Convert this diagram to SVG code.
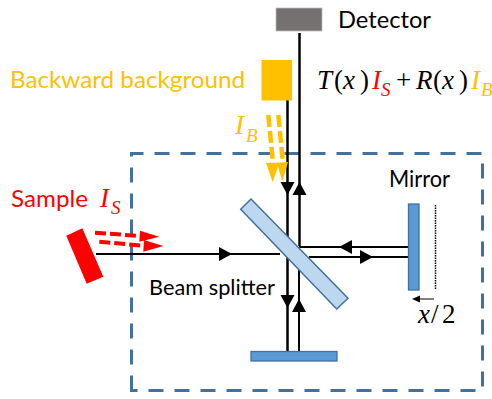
<svg xmlns="http://www.w3.org/2000/svg" width="492" height="399" viewBox="0 0 492 399">
<style>
.t{font-family:"Lato","Liberation Sans",sans-serif;font-size:24px}
.b{font-size:21.5px}
.m{font-family:"Liberation Serif","DejaVu Serif",serif;font-size:27px;font-style:italic}
.s{font-family:"Liberation Serif","DejaVu Serif",serif;font-size:19px;font-style:italic}
.n{font-style:normal}
.k{stroke:#000;fill:none}
.red{fill:#ff0000}.yel{fill:#ffc000}.blk{fill:#000}
.opt{stroke:#41719c;stroke-width:1.3}
.dr{stroke:#f00;stroke-width:4;stroke-dasharray:11 4;fill:none}
.dy{stroke:#ffc000;stroke-width:4.5;stroke-dasharray:12 4;fill:none}
</style>
<defs>
<polygon id="ah" points="0,0 -13,-7 -13,7" fill="#000"/>
</defs>
<path id="frame" d="M131.5 390.5V153.5H482.5V390.5Z" fill="none" stroke="#41719c" stroke-width="3" stroke-dasharray="15 11"/>
<g id="connectors">
<path class="k" stroke-width="2.5" d="M287.5 100V251M287.5 257V351"/>
<path class="k" stroke-width="2.5" d="M299.5 33V246"/>
<path class="k" stroke-width="1.8" d="M96 254H280"/>
<path class="k" stroke-width="2" d="M299 247H408"/>
<path class="k" stroke-width="1.8" d="M309 257H408"/>
<path class="k" stroke-width="2" d="M299 268V351"/>
<use href="#ah" transform="translate(232 254)"/>
<use href="#ah" transform="translate(287.5 195) rotate(90)"/>
<use href="#ah" transform="translate(299.5 182) rotate(-90)"/>
<use href="#ah" transform="translate(339 247) rotate(180)"/>
<use href="#ah" transform="translate(373 257)"/>
<use href="#ah" transform="translate(287.5 308) rotate(90)"/>
<use href="#ah" transform="translate(299 299) rotate(-90)"/>
<path class="dr" d="M95 232.7L140 236"/>
<polygon class="red" points="140,230.7 139.3,241.7 159.3,236.7"/>
<path class="dr" d="M99.3 241.7L143 245.7"/>
<polygon class="red" points="144,240 143.3,251.7 163.3,246"/>
<path class="dy" d="M268.3 115L272.7 160"/>
<polygon class="yel" points="266,162.7 279.3,162.7 272.7,182.3"/>
<path class="dy" d="M278.3 115L282.7 160"/>
<polygon class="yel" points="277,162.7 288,162 282.3,181.7"/>
<path d="M434 299H420" stroke="#000" stroke-width="1" fill="none"/>
<polygon class="blk" points="412,299 420,295.5 420,302.5"/>
<path d="M435.5 205V290" stroke="#000" stroke-width="1.5" stroke-dasharray="1.5 1" fill="none"/>
</g>
<g id="detector">
<rect x="276" y="8" width="46" height="23" fill="#767171" stroke="#bfbfbf" stroke-width="0.8"/>
<text class="t" x="338" y="28" textLength="93" lengthAdjust="spacingAndGlyphs">Detector</text>
</g>
<g id="background">
<rect x="261.5" y="60" width="30.5" height="40.5" fill="#ffc000"/>
<text class="t yel" x="10" y="88" textLength="235" lengthAdjust="spacingAndGlyphs">Backward background</text>
<text class="m yel" x="235" y="134">I</text>
<text class="s yel" x="246" y="142">B</text>
</g>
<g id="sample">
<polygon class="red" points="66.3,235.7 82.3,228.3 103.3,276.7 86.7,283.7"/>
<text class="t red" x="11" y="207" textLength="77" lengthAdjust="spacingAndGlyphs">Sample</text>
<text class="m red" x="100" y="207">I</text>
<text class="s red" x="111" y="214">S</text>
</g>
<g id="beam-splitter">
<polygon points="240.7,209.3 251,199 348,298.3 336.7,309" fill="#bdd7ee" stroke="#41719c" stroke-width="1.5"/>
<text class="t b" x="149" y="295" textLength="126" lengthAdjust="spacingAndGlyphs">Beam splitter</text>
</g>
<g id="lower-mirror">
<rect class="opt" x="251" y="351.5" width="86" height="9.5" fill="#5b9bd5"/>
</g>
<g id="mirror">
<rect class="opt" x="408.5" y="204" width="10.5" height="86" fill="#5b9bd5"/>
<text class="t" x="389" y="187" textLength="61" lengthAdjust="spacingAndGlyphs">Mirror</text>
<text class="m" x="418" y="323">x</text>
<text class="m n" x="431" y="323">/</text>
<text class="m n" x="442" y="323">2</text>
</g>
<g id="formula">
<text class="m" x="317" y="89">T</text>
<text class="m n" x="334" y="89">(</text>
<text class="m" x="343" y="89">x</text>
<text class="m n" x="360" y="89">)</text>
<text class="m red" x="372" y="89">I</text>
<text class="s red" x="381" y="96">S</text>
<text class="m n" x="396" y="89">+</text>
<text class="m" x="416" y="89">R</text>
<text class="m n" x="433" y="89">(</text>
<text class="m" x="442" y="89">x</text>
<text class="m n" x="459" y="89">)</text>
<text class="m yel" x="471" y="89">I</text>
<text class="s yel" x="481" y="96">B</text>
</g>
</svg>
